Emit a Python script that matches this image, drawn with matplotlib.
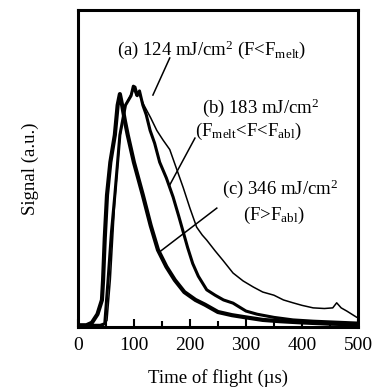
import matplotlib.pyplot as plt
from matplotlib.ticker import MultipleLocator

# time of flight (us) and normalised signal for the three fluences
t_a = [0, 45, 52, 58, 66, 75, 85, 95, 100, 104, 108, 118, 130, 141, 152, 164, 176,
       188, 200, 212, 222, 230, 245, 259, 268, 277, 295, 313, 330, 350, 367, 384,
       400, 420, 440, 455, 462, 470, 480, 498, 500]
s_a = [0.005, 0.005, 0.02, 0.15, 0.40, 0.60, 0.70, 0.735, 0.75, 0.73, 0.74, 0.70,
       0.66, 0.62, 0.59, 0.56, 0.50, 0.44, 0.375, 0.315, 0.29, 0.274, 0.24, 0.21,
       0.19, 0.17, 0.145, 0.126, 0.11, 0.10, 0.085, 0.076, 0.068, 0.06, 0.058,
       0.06, 0.076, 0.06, 0.05, 0.03, 0.03]

t_b = [0, 40, 48, 54, 60, 66, 75, 85, 95, 99, 102, 106, 110, 116, 122, 129, 137,
       146, 158, 170, 180, 188, 196, 205, 215, 230, 245, 260, 277, 300, 320, 350,
       384, 420, 460, 500]
s_b = [0.005, 0.005, 0.01, 0.15, 0.30, 0.416, 0.606, 0.70, 0.73, 0.76, 0.757, 0.73,
       0.745, 0.70, 0.67, 0.62, 0.58, 0.52, 0.47, 0.41, 0.35, 0.30, 0.25, 0.20,
       0.16, 0.117, 0.10, 0.085, 0.075, 0.05, 0.04, 0.03, 0.022, 0.018, 0.015, 0.012]

t_c = [0, 15, 25, 35, 43, 45, 48, 52, 58, 66, 71, 75, 79, 84, 89, 100, 116, 130,
       143, 158, 173, 190, 210, 227, 250, 275, 300, 330, 360, 400, 450, 500]
s_c = [0.005, 0.005, 0.013, 0.04, 0.085, 0.148, 0.28, 0.416, 0.52, 0.606, 0.70,
       0.735, 0.70, 0.65, 0.606, 0.52, 0.416, 0.32, 0.243, 0.19, 0.148, 0.11,
       0.085, 0.07, 0.047, 0.037, 0.03, 0.022, 0.018, 0.014, 0.01, 0.008]

plt.rcParams['font.family'] = ['Liberation Serif', 'DejaVu Serif']
plt.rcParams['mathtext.fontset'] = 'custom'
plt.rcParams['mathtext.rm'] = 'Liberation Serif'
plt.rcParams['mathtext.it'] = 'Liberation Serif:italic'

fig = plt.figure(figsize=(3.78, 3.91), dpi=100)
ax = fig.add_axes([0.206, 0.164, 0.741, 0.81])

ax.plot(t_a, s_a, color='black', lw=1.1)
ax.plot(t_b, s_b, color='black', lw=2.2)
ax.plot(t_c, s_c, color='black', lw=3.0)

ax.set_xlim(0, 500)
ax.set_ylim(0, 1)
ax.xaxis.set_major_locator(MultipleLocator(100))
ax.xaxis.set_minor_locator(MultipleLocator(50))
ax.tick_params(axis='x', which='major', direction='in', length=6, width=1.5,
               labelsize=14, pad=7)
ax.tick_params(axis='x', which='minor', direction='in', length=4, width=1.5)
ax.set_yticks([])
for sp in ax.spines.values():
    sp.set_linewidth(2.2)

ax.set_xlabel('Time of flight (\u00b5s)', fontsize=13.5, labelpad=11)
ax.set_ylabel('Signal (a.u.)', fontsize=13.5, labelpad=28)

fs = 13.5
ax.text(70, 0.874, r'(a) 124 mJ/cm$^2$ (F<F$_{\mathrm{melt}}$)', fontsize=fs, va='center')
ax.plot([164, 134], [0.849, 0.732], color='black', lw=1.1)
ax.text(221, 0.691, r'(b) 183 mJ/cm$^2$', fontsize=fs, va='center')
ax.text(209, 0.618, r'(F$_{\mathrm{melt}}$<F<F$_{\mathrm{abl}}$)', fontsize=fs, va='center')
ax.plot([209, 164], [0.596, 0.448], color='black', lw=1.1)
ax.text(257, 0.435, r'(c) 346 mJ/cm$^2$', fontsize=fs, va='center')
ax.text(295, 0.353, r'(F>F$_{\mathrm{abl}}$)', fontsize=fs, va='center')
ax.plot([248, 146], [0.375, 0.237], color='black', lw=1.1)

fig.savefig('out.png', dpi=100)
